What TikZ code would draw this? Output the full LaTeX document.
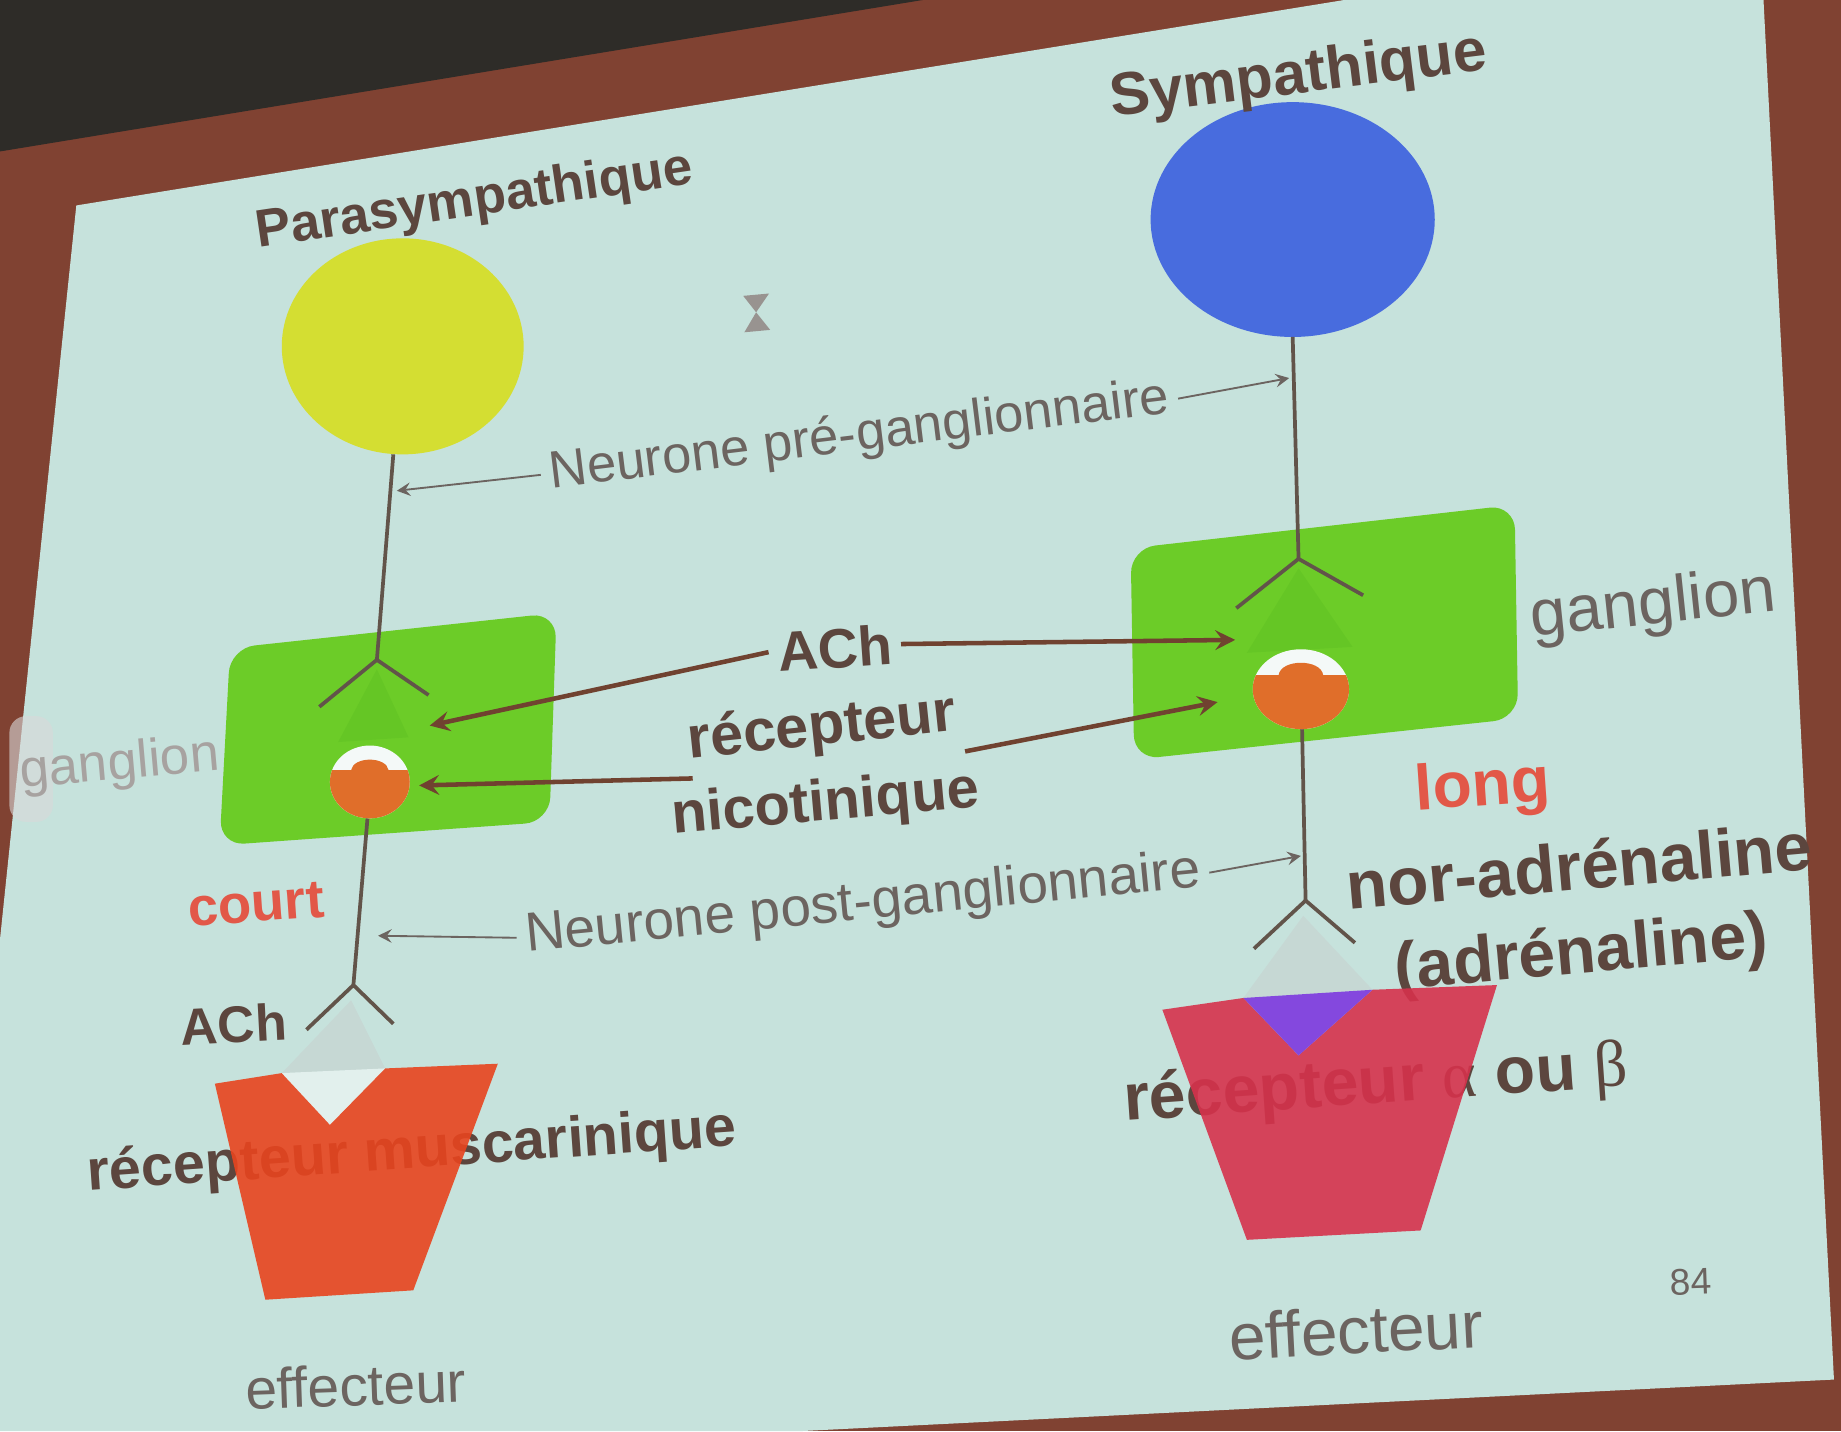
\documentclass[tikz,border=0pt]{standalone}
\usepackage{fontspec}
\setmainfont{Liberation Sans}
\newfontfamily\grec{Liberation Serif}
\newcommand\taille[1]{\fontsize{#1}{#1}\selectfont}

\definecolor{fond}{RGB}{128,66,50}
\definecolor{noir}{RGB}{46,44,40}
\definecolor{ecran}{RGB}{198,226,220}
\definecolor{texte}{RGB}{92,70,62}
\definecolor{gris}{RGB}{108,100,96}
\definecolor{fleche}{RGB}{112,66,48}
\definecolor{axone}{RGB}{98,84,74}
\definecolor{jaune}{RGB}{212,222,50}
\definecolor{bleu}{RGB}{72,108,222}
\definecolor{vert}{RGB}{108,204,40}
\definecolor{orangerec}{RGB}{224,110,42}
\definecolor{rouge}{RGB}{232,68,30}
\definecolor{rose}{RGB}{214,50,76}
\definecolor{violetrec}{RGB}{132,72,222}
\definecolor{rougetxt}{RGB}{226,88,72}

\begin{document}
\begin{tikzpicture}[x=0.01cm, y=-0.01cm, >=stealth,
  lbl/.style={text=texte, inner sep=0pt},
  fin/.style={text=gris, inner sep=0pt},
  rougelbl/.style={text=rougetxt, inner sep=0pt},
  axe/.style={draw=axone, line width=0.9pt},
  fleche/.style={->, draw=fleche, line width=1.1pt},
  renvoi/.style={->, draw=gris, line width=0.45pt}]
\useasboundingbox (0,0) rectangle (1568,1219);

% salle et ecran
\fill[fond] (0,0) rectangle (1568,1219);
\fill[noir] (0,0) -- (786,0) -- (0,129) -- cycle;
\fill[ecran] (65,175) -- (1145,0) -- (1502,0) -- (1562,1175) -- (680,1219)
  -- (0,1219) -- (0,800) -- cycle;
\fill[gray!30, opacity=0.6, rounded corners=4pt] (8,610) rectangle (45,700);

% corps cellulaires
\fill[jaune] (343,295) ellipse [x radius=103, y radius=92];
\fill[bleu] (1101,187) ellipse [x radius=121, y radius=100];
\fill[gris!70] (633,252) -- (655,250) -- (644,266) -- cycle;
\fill[gris!70] (644,266) -- (634,283) -- (656,281) -- cycle;

% ganglions
\fill[vert, rounded corners=6pt] (196,552) -- (474,522) -- (468,700) -- (187,720) -- cycle;
\fill[vert, rounded corners=6pt] (963,467) -- (1290,430) -- (1293,612) -- (966,647) -- cycle;
\fill[green!40!black, opacity=0.06] (321,570) -- (288,632) -- (348,628) -- cycle;
\fill[green!40!black, opacity=0.06] (1106,484) -- (1062,556) -- (1152,551) -- cycle;

% neurones
\coordinate (somaP) at (335,387);
\coordinate (synP) at (321,562);
\coordinate (recP) at (313,697);
\coordinate (termP) at (301,839);
\coordinate (somaS) at (1101,287);
\coordinate (synS) at (1106,476);
\coordinate (recS) at (1109,621);
\coordinate (termS) at (1112,767);

\draw[axe] (somaP) -- (synP);
\draw[axe] (272,602) -- (synP) -- (365,592);
\draw[axe] (recP) -- (termP);
\draw[axe] (261,877) -- (termP) -- (335,872);
\draw[axe] (somaS) -- (synS);
\draw[axe] (1053,518) -- (synS) -- (1161,507);
\draw[axe] (recS) -- (termS);
\draw[axe] (1068,808) -- (termS) -- (1154,803);

% recepteurs nicotiniques
\begin{scope}[shift={(315,666)}]
  \fill[white!80!ecran] (0,0) ellipse [x radius=34, y radius=31];
  \clip (0,0) ellipse [x radius=34, y radius=31];
  \fill[orangerec] (-40,-10) -- (-16,-10) .. controls (-14,-22) and (14,-22) .. (16,-10)
    -- (40,-10) -- (40,40) -- (-40,40) -- cycle;
\end{scope}
\begin{scope}[shift={(1108,587)}]
  \fill[white!80!ecran] (0,0) ellipse [x radius=41, y radius=34];
  \clip (0,0) ellipse [x radius=41, y radius=34];
  \fill[orangerec] (-48,-12) -- (-19,-12) .. controls (-17,-26) and (17,-26) .. (19,-12)
    -- (48,-12) -- (48,45) -- (-48,45) -- cycle;
\end{scope}

% mediateurs
\fill[gray!45, opacity=0.35] (299,852) -- (240,914) -- (328,910) -- cycle;
\fill[gray!45, opacity=0.35] (1110,780) -- (1059,850) -- (1169,843) -- cycle;

% textes
\node[lbl, rotate=8.4, font=\bfseries\taille{12.8}] (para) at (404,172) {Parasympathique};
\node[lbl, rotate=7, font=\bfseries\taille{14.6}] (symp) at (1106,66) {Sympathique};
\node[fin, rotate=7, font=\taille{12.7}] (pre) at (732,372) {Neurone pré-ganglionnaire};
\node[fin, rotate=5.5, font=\taille{13.3}] (post) at (735,771) {Neurone post-ganglionnaire};
\node[lbl, rotate=4, font=\bfseries\taille{13.5}] (achH) at (711,552) {ACh};
\node[lbl, rotate=6, font=\bfseries\taille{14.3}] (recep) at (700,621) {récepteur};
\node[lbl, rotate=5, font=\bfseries\taille{14}] (nicot) at (703,686) {nicotinique};
\node[fin, rotate=6, font=\taille{15.8}] (gangS) at (1408,517) {ganglion};
\node[fin, text=gris!60, rotate=5, font=\taille{12.8}] (gangP) at (102,652) {ganglion};
\node[rougelbl, rotate=4, font=\bfseries\taille{13.2}] (court) at (218,770) {court};
\node[rougelbl, rotate=4, font=\bfseries\taille{15.5}] (long) at (1263,672) {long};
\node[lbl, rotate=5, font=\bfseries\taille{16.3}] (nora) at (1345,737) {nor-adrénaline};
\node[lbl, rotate=5, font=\bfseries\taille{16}] (adre) at (1347,814) {(adrénaline)};
\node[lbl, rotate=3, font=\bfseries\taille{12.5}] (achB) at (199,872) {ACh};
\node[lbl, rotate=4, font=\bfseries\taille{13.9}] (musc) at (351,982) {récepteur muscarinique};
\node[lbl, rotate=4, font=\bfseries\taille{16}] (alpha) at (1172,925)
  {récepteur {\grec\mdseries α} ou {\grec\mdseries β}};
\node[fin, rotate=2, font=\taille{13.8}] (effP) at (303,1180) {effecteur};
\node[fin, rotate=3, font=\taille{15.9}] (effS) at (1155,1133) {effecteur};
\node[fin, rotate=2, font=\taille{9}] (page) at (1440,1092) {84};

% effecteurs
\fill[rouge, opacity=0.9] (183,923) -- (240,914) -- (281,958) -- (328,910) -- (424,906)
  -- (352,1099) -- (226,1107) -- cycle;
\fill[white, opacity=0.5] (240,914) -- (281,958) -- (328,910) -- cycle;
\fill[rose, opacity=0.9] (990,860) -- (1059,850) -- (1106,899) -- (1169,843) -- (1275,839)
  -- (1210,1048) -- (1062,1056) -- cycle;
\fill[violetrec] (1059,850) -- (1169,843) -- (1106,899) -- cycle;

% renvois
\coordinate (preP) at (338,418);
\coordinate (preS) at (1098,322);
\coordinate (postP) at (322,797);
\coordinate (postS) at (1108,729);
\coordinate (achP) at (366,618);
\coordinate (achS) at (1052,545);
\coordinate (nicP) at (357,669);
\coordinate (nicS) at (1037,598);
\coordinate (nicD) at (590,663);
\coordinate (recD) at (822,640);

\draw[renvoi] ([xshift=-2pt]pre.west) -- (preP);
\draw[renvoi] ([xshift=2pt]pre.east) -- (preS);
\draw[renvoi] ([xshift=-2pt]post.west) -- (postP);
\draw[renvoi] ([xshift=2pt]post.east) -- (postS);
\draw[fleche] ([xshift=-2pt]achH.west) -- (achP);
\draw[fleche] ([xshift=2pt]achH.east) -- (achS);
\draw[fleche] (nicD) -- (nicP);
\draw[fleche] (recD) -- (nicS);

\end{tikzpicture}
\end{document}
